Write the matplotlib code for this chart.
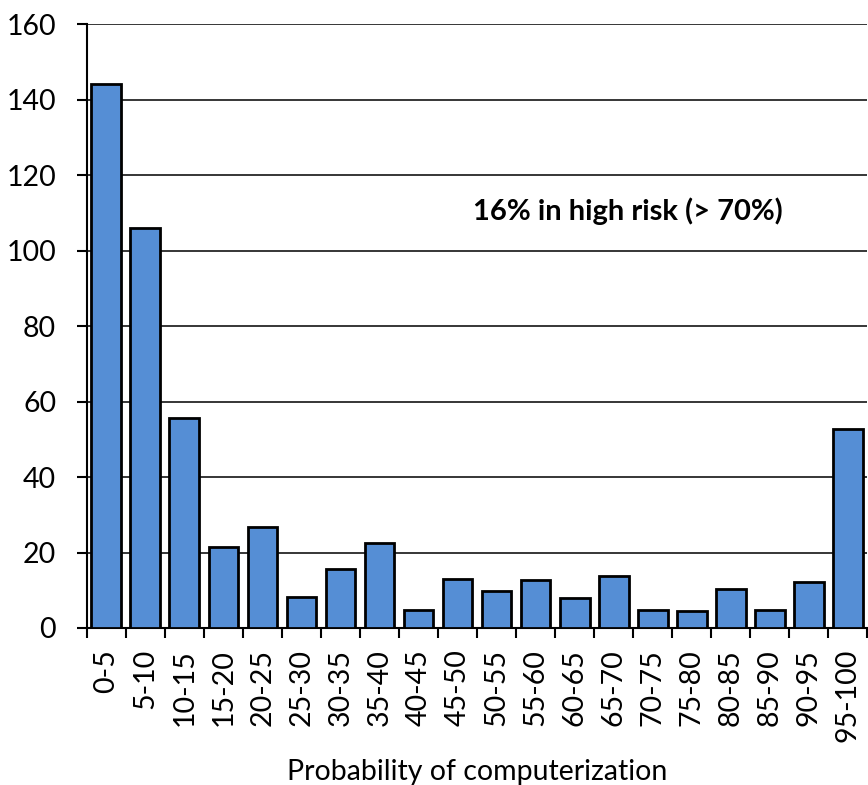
import matplotlib
matplotlib.use('Agg')
import matplotlib.pyplot as plt
import numpy as np

# --- data
bins = ['0-5', '5-10', '10-15', '15-20', '20-25', '25-30', '30-35', '35-40',
        '40-45', '45-50', '50-55', '55-60', '60-65', '65-70', '70-75', '75-80',
        '80-85', '85-90', '90-95', '95-100']
counts = [144, 106, 55.6, 21.5, 26.7, 8.2, 15.7, 22.4, 4.7, 12.9,
          9.9, 12.7, 7.9, 13.8, 4.7, 4.5, 10.3, 4.7, 12.2, 52.7]
y_ticks = [0, 20, 40, 60, 80, 100, 120, 140, 160]
note = '16% in high risk (> 70%)'

plt.rcParams['font.family'] = ['Lato', 'DejaVu Sans']

fig = plt.figure(figsize=(8.68, 7.85), dpi=100)
ax = fig.add_axes([0.0999, 0.2, 0.8995, 0.7694])

x = np.arange(len(bins))
ax.bar(x, counts, width=0.76, color='#558ED5', edgecolor='black', linewidth=2, zorder=3)

ax.set_xlim(-0.5, len(bins) - 0.5)
ax.set_ylim(0, 160)
ax.set_yticks(y_ticks)
ax.grid(axis='y', color='black', linewidth=1.1, zorder=0)

# labels at bar centres, tick marks at bin edges
ax.set_xticks(x)
ax.set_xticklabels(bins, rotation=90, fontsize=20.5)
ax.set_xticks(np.arange(len(bins) + 1) - 0.5, minor=True)
ax.tick_params(axis='x', which='major', length=0, pad=15)
ax.tick_params(axis='x', which='minor', length=7, width=1.5, direction='out')
ax.tick_params(axis='y', labelsize=20.5, length=7, width=1.5, pad=15)

for s in ['top', 'right']:
    ax.spines[s].set_visible(False)
for s in ['left', 'bottom']:
    ax.spines[s].set_linewidth(1.5)

ax.text(13.37, 108.1, note, ha='center', va='baseline', fontsize=21, fontweight='bold')
ax.set_xlabel('Probability of computerization', fontsize=20.5, labelpad=12)

fig.savefig('out.png', dpi=100)
